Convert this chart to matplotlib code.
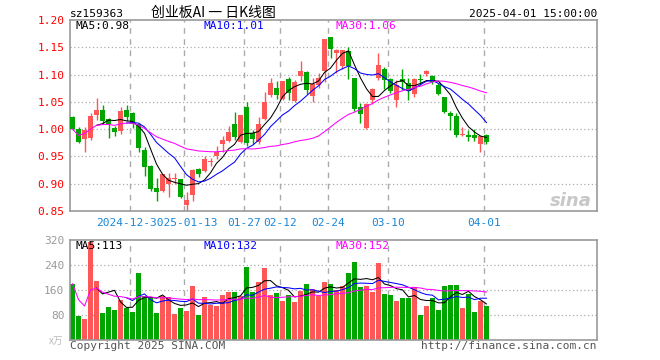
import matplotlib
matplotlib.use("Agg")
import matplotlib.pyplot as plt
import numpy as np
import pandas as pd

# daily bars of sz159363, 2024-12-16 .. 2025-04-01 (70 trading days)
opens = [1.022, 1.000, 0.982, 0.984, 1.025, 1.035, 1.019, 1.002, 0.996, 1.035,
         1.029, 1.010, 0.962, 0.933, 0.892, 0.886, 0.900, 0.909, 0.908, 0.861,
         0.880, 0.927, 0.924, 0.939, 0.950, 0.973, 0.978, 1.009, 0.977, 1.040,
         0.993, 0.976, 1.019, 1.063, 1.076, 1.055, 1.091, 1.052, 1.098, 1.105,
         1.060, 1.081, 1.106, 1.168, 1.139, 1.115, 1.144, 1.094, 1.041, 1.002,
         1.054, 1.093, 1.110, 1.091, 1.054, 1.092, 1.084, 1.064, 1.091, 1.101,
         1.097, 1.081, 1.059, 1.030, 1.024, 0.990, 0.989, 0.990, 0.973, 0.990]
highs = [1.025, 1.004, 1.004, 1.029, 1.057, 1.044, 1.021, 1.006, 1.040, 1.044,
         1.031, 1.012, 0.967, 0.934, 0.910, 0.918, 0.919, 0.919, 0.909, 0.885,
         0.927, 0.928, 0.950, 0.948, 0.970, 0.988, 1.006, 1.031, 1.025, 1.050,
         0.998, 1.022, 1.068, 1.094, 1.088, 1.089, 1.096, 1.090, 1.125, 1.107,
         1.093, 1.103, 1.166, 1.168, 1.146, 1.145, 1.150, 1.094, 1.048, 1.047,
         1.075, 1.139, 1.113, 1.093, 1.090, 1.111, 1.093, 1.093, 1.101, 1.109,
         1.100, 1.085, 1.059, 1.034, 1.029, 1.004, 0.999, 1.001, 0.987, 0.992]
lows = [0.998, 0.974, 0.958, 0.980, 1.016, 1.009, 0.983, 0.988, 0.992, 1.015,
        1.003, 0.958, 0.914, 0.887, 0.869, 0.884, 0.876, 0.900, 0.873, 0.850,
        0.868, 0.912, 0.922, 0.932, 0.946, 0.958, 0.976, 0.981, 0.975, 0.970,
        0.972, 0.973, 1.017, 1.059, 1.056, 1.053, 1.053, 1.049, 1.089, 1.065,
        1.050, 1.076, 1.087, 1.130, 1.102, 1.110, 1.091, 1.034, 1.011, 1.000,
        1.046, 1.090, 1.073, 1.066, 1.041, 1.071, 1.053, 1.058, 1.080, 1.097,
        1.083, 1.062, 1.030, 0.999, 0.986, 0.987, 0.978, 0.979, 0.958, 0.973]
closes = [1.000, 0.977, 0.999, 1.024, 1.035, 1.015, 1.010, 0.995, 1.033, 1.023,
          1.010, 0.966, 0.930, 0.890, 0.884, 0.917, 0.911, 0.911, 0.876, 0.871,
          0.926, 0.917, 0.945, 0.941, 0.958, 0.980, 0.995, 0.986, 1.025, 0.975,
          0.982, 1.010, 1.050, 1.085, 1.063, 1.089, 1.066, 1.086, 1.107, 1.072,
          1.083, 1.093, 1.165, 1.146, 1.145, 1.145, 1.116, 1.036, 1.027, 1.046,
          1.073, 1.118, 1.090, 1.070, 1.081, 1.087, 1.070, 1.091, 1.090, 1.107,
          1.087, 1.064, 1.032, 1.024, 0.989, 0.991, 0.986, 0.984, 0.987, 0.976]
volumes = [180, 78, 68, 315, 190, 87, 106, 97, 129, 102,
           90, 216, 142, 134, 87, 142, 138, 84, 103, 94,
           174, 80, 138, 113, 110, 145, 155, 155, 142, 235,
           155, 187, 229, 145, 151, 126, 145, 122, 158, 180,
           164, 142, 185, 180, 161, 174, 213, 251, 171, 174,
           155, 248, 148, 145, 126, 135, 135, 171, 81, 110,
           135, 97, 174, 177, 177, 103, 148, 90, 126, 110]

date_ticks = [10, 19, 29, 35, 43, 53, 69]
date_labels = ["2024-12-30", "2025-01-13", "01-27", "02-12", "02-24", "03-10", "04-01"]

price_ticks = [0.85, 0.90, 0.95, 1.00, 1.05, 1.10, 1.15, 1.20]
volume_ticks = [80, 160, 240, 320]

price_header = ["MA5:0.98", "MA10:1.01", "MA30:1.06"]
volume_header = ["MA5:113", "MA10:132", "MA30:152"]

RED = "#fd5757"
GREEN = "#00a600"
GRID = "#aaaaaa"
FRAME = "#999999"
MONO = "DejaVu Sans Mono"
CJK = ["Noto Sans CJK SC", "DejaVu Sans"]

W, H = 660, 360


def px(x, y):
    return x / W, 1 - y / H


def moving_averages(values):
    s = pd.Series(values, dtype=float)
    return (s.rolling(5).mean(), s.rolling(10).mean(),
            s.rolling(30, min_periods=1).mean())


def style_axes(ax, ticks, lim, label_color):
    ax.set_xlim(-0.42, 87.42)
    ax.set_ylim(*lim)
    ax.set_xticks([])
    ax.set_yticks(ticks)
    ax.tick_params(axis="y", length=0, pad=4, labelsize=8, labelcolor=label_color)
    for lab in ax.get_yticklabels():
        lab.set_family(MONO)
    for sp in ax.spines.values():
        sp.set_color(FRAME)
        sp.set_linewidth(1.2)
    for t in ticks:
        if lim[0] < t < lim[1]:
            ax.axhline(t, color=GRID, lw=0.9, ls=(0, (1, 2)), zorder=0)
    for d in date_ticks:
        ax.axvline(d - 0.4, color=GRID, lw=1, ls=(0, (4, 4)), zorder=0)


def main():
    fig = plt.figure(figsize=(6.6, 3.6), dpi=100)
    ax = fig.add_axes([70 / W, 1 - 211 / H, 527 / W, 191 / H])
    axv = fig.add_axes([70 / W, 1 - 340 / H, 527 / W, 100 / H])

    x = np.arange(len(closes))
    o, h, l, c = map(np.array, (opens, highs, lows, closes))
    colors = [RED if cc >= oo else GREEN for oo, cc in zip(o, c)]

    # candles
    ax.vlines(x, l, h, colors=colors, lw=1, zorder=2)
    body = np.maximum(np.abs(c - o), 0.0015)
    ax.bar(x, body, bottom=np.minimum(o, c), width=0.82, color=colors, lw=0, zorder=3)

    ma5, ma10, ma30 = moving_averages(closes)
    ax.plot(x, ma5, color="black", lw=0.75, zorder=4)
    ax.plot(x, ma10, color="#0000ff", lw=0.75, zorder=4)
    ax.plot(x, ma30, color="#ff00ff", lw=0.75, zorder=4)
    style_axes(ax, price_ticks, (0.85, 1.20), "#ff0000")

    # volume
    axv.bar(x, volumes, width=0.82, color=colors, lw=0, zorder=2)
    v5, v10, v30 = moving_averages(volumes)
    axv.plot(x, v5, color="black", lw=0.75, zorder=4)
    axv.plot(x, v10, color="#0000ff", lw=0.75, zorder=4)
    axv.plot(x, v30, color="#ff00ff", lw=0.75, zorder=4)
    style_axes(axv, volume_ticks, (0, 320), "#999999")

    # headers inside panels
    head_colors = ["black", "#0000ff", "#ff00ff"]
    for txt, col, xp in zip(price_header, head_colors, [75, 204, 335]):
        fig.text(*px(xp, 29), txt, color=col, fontsize=8, family=MONO, va="baseline")
    for txt, col, xp in zip(volume_header, head_colors, [75, 204, 335]):
        fig.text(*px(xp, 249), txt, color=col, fontsize=8, family=MONO, va="baseline")

    # date labels between panels, earlier ones drawn on top
    for k, (d, lab) in enumerate(zip(date_ticks, date_labels)):
        xp = 72.5 + 6 * d - 2.5
        fig.text(*px(xp, 226), lab, color="#1a86d6", fontsize=8, family=MONO,
                 ha="center", va="baseline", zorder=20 - k,
                 bbox=dict(facecolor="white", edgecolor="none", pad=0))

    fig.text(*px(70, 17), "sz159363", fontsize=8, family=MONO, va="baseline")
    fig.text(*px(213, 17), "创业板AI 一 日K线图", fontsize=10, family=CJK,
             ha="center", va="baseline")
    fig.text(*px(597, 17), "2025-04-01 15:00:00", fontsize=8, family=MONO,
             ha="right", va="baseline")
    fig.text(*px(70, 349), "Copyright 2025 SINA.COM", fontsize=8, family=MONO,
             color="#555555", va="baseline")
    fig.text(*px(597, 349), "http://finance.sina.com.cn", fontsize=8, family=MONO,
             color="#555555", ha="right", va="baseline")
    fig.text(*px(49, 344), "x万", fontsize=7, family=CJK, color="#bbbbbb", va="baseline")
    fig.text(*px(592, 206), "sina", fontsize=13, color="#c8c8c8", style="italic",
             weight="bold", ha="right", va="baseline")

    fig.savefig("out.png", dpi=100)


if __name__ == "__main__":
    main()
